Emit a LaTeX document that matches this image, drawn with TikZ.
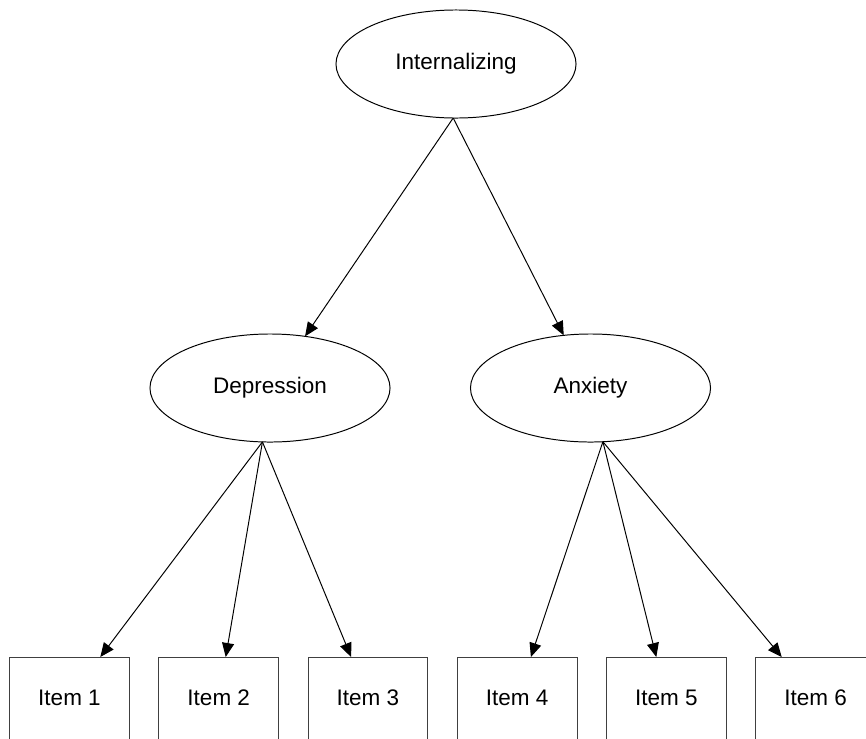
\documentclass[tikz,border=0pt]{standalone}
\usepackage{fontspec}
\setmainfont{Liberation Sans}
\usetikzlibrary{positioning,arrows.meta,shapes}
\tikzstyle{latent}=[ellipse, draw=black, line width=0.7pt, inner sep=0pt, outer sep=0pt,
minimum width=6cm, minimum height=2.7cm, font=\fontsize{16}{19}\selectfont]
\tikzstyle{itembox}=[rectangle, draw=black!75, line width=0.7pt, inner sep=0pt, outer sep=0pt,
minimum width=2.99cm, minimum height=2.05cm, font=\fontsize{16}{19}\selectfont]
\tikzstyle{line}=[-{Triangle[length=0.35cm,width=0.3cm]}, line width=0.7pt]

\begin{document}
\begin{tikzpicture}[x=0.025cm, y=-0.025cm, node distance=0.74cm]
    \useasboundingbox (0,0) rectangle (866,738);

    \node (int) [latent] at (456,64) {Internalizing};
    \node (dep) [latent] at (270,388) {Depression};
    \node (anx) [latent] at (590.5,388) {Anxiety};

    \node (item1) [itembox] at (69.5,698) {Item 1};
    \node (item2) [itembox, right=of item1] {Item 2};
    \node (item3) [itembox, right=of item2] {Item 3};
    \node (item4) [itembox, right=of item3] {Item 4};
    \node (item5) [itembox, right=of item4] {Item 5};
    \node (item6) [itembox, right=of item5] {Item 6};

%second order factor
   \draw[line] (int.267) -- (dep);
   \draw[line] (int.267) -- (anx);

%loadings, all lines leave from one point on the bottom
   \draw[line] (dep.262) -- (item1);
   \draw[line] (dep.262) -- (item2);
   \draw[line] (dep.262) -- (item3);
   \draw[line] (anx.283) -- (item4);
   \draw[line] (anx.283) -- (item5);
   \draw[line] (anx.283) -- (item6);

\end{tikzpicture}
\end{document}
